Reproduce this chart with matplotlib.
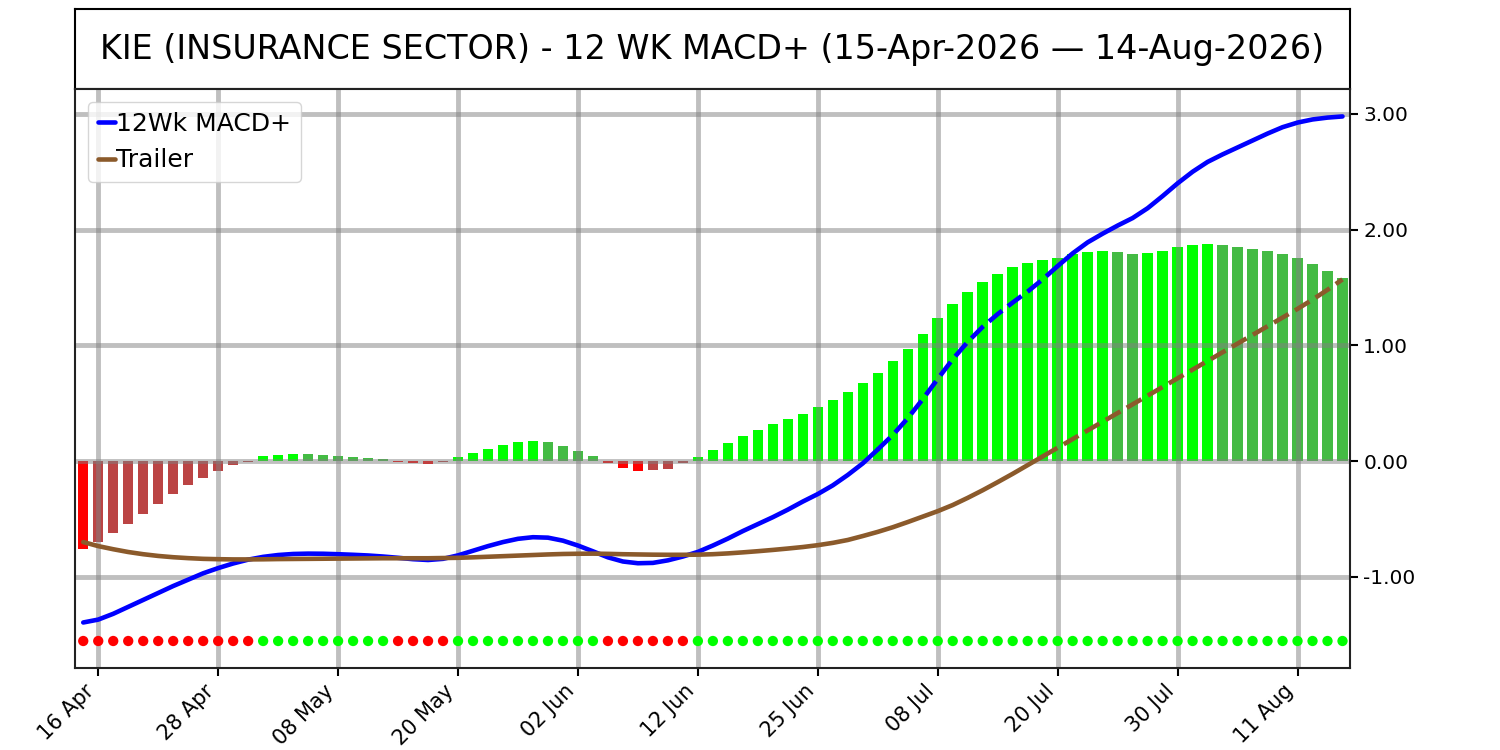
import numpy as np
import matplotlib
matplotlib.use("Agg")
import matplotlib.pyplot as plt
from matplotlib.ticker import FuncFormatter

title = "KIE (INSURANCE SECTOR) - 12 WK MACD+ (15-Apr-2026 \u2014 14-Aug-2026)"

# trading-day histogram (MACD+ minus trailer), one value per session
hist = [
    -0.763, -0.70, -0.625, -0.54, -0.455, -0.37, -0.285, -0.21, -0.144, -0.089,
    -0.037, -0.005, 0.043, 0.052, 0.060, 0.058, 0.052, 0.043, 0.032, 0.023,
    0.014, -0.008, -0.018, -0.022, -0.010, 0.032, 0.069, 0.104, 0.138, 0.164,
    0.173, 0.164, 0.130, 0.086, 0.043, -0.020, -0.058, -0.084, -0.080, -0.066,
    -0.020, 0.032, 0.095, 0.155, 0.216, 0.268, 0.320, 0.363, 0.410, 0.467,
    0.525, 0.594, 0.672, 0.758, 0.862, 0.966, 1.096, 1.234, 1.355, 1.459,
    1.546, 1.618, 1.676, 1.710, 1.736, 1.754, 1.785, 1.805, 1.814, 1.803,
    1.788, 1.797, 1.814, 1.849, 1.870, 1.876, 1.866, 1.849, 1.831, 1.814,
    1.788, 1.754, 1.702, 1.641, 1.580,
]

macd = [
    -1.395, -1.37, -1.32, -1.26, -1.20, -1.14, -1.08, -1.025, -0.97, -0.925,
    -0.885, -0.852, -0.828, -0.812, -0.803, -0.80, -0.801, -0.805, -0.81, -0.816,
    -0.825, -0.836, -0.848, -0.855, -0.845, -0.815, -0.775, -0.735, -0.70, -0.672,
    -0.658, -0.662, -0.688, -0.73, -0.78, -0.832, -0.868, -0.883, -0.88, -0.858,
    -0.825, -0.785, -0.73, -0.67, -0.605, -0.545, -0.485, -0.42, -0.35, -0.285,
    -0.21, -0.12, -0.02, 0.10, 0.225, 0.37, 0.535, 0.71, 0.88, 1.03,
    1.16, 1.27, 1.37, 1.465, 1.57, 1.685, 1.795, 1.89, 1.965, 2.035,
    2.10, 2.185, 2.29, 2.40, 2.50, 2.585, 2.65, 2.71, 2.77, 2.83,
    2.885, 2.925, 2.952, 2.968, 2.978,
]

trailer = [
    -0.70, -0.735, -0.762, -0.786, -0.805, -0.82, -0.831, -0.839, -0.845, -0.848,
    -0.85, -0.85, -0.849, -0.847, -0.846, -0.845, -0.844, -0.843, -0.842, -0.841,
    -0.84, -0.84, -0.84, -0.84, -0.838, -0.836, -0.832, -0.827, -0.822, -0.817,
    -0.812, -0.807, -0.803, -0.801, -0.80, -0.802, -0.805, -0.807, -0.809, -0.81,
    -0.81, -0.809, -0.805, -0.798, -0.789, -0.779, -0.768, -0.756, -0.743, -0.727,
    -0.707, -0.682, -0.648, -0.612, -0.572, -0.527, -0.48, -0.433, -0.38, -0.318,
    -0.252, -0.182, -0.11, -0.035, 0.04, 0.115, 0.19, 0.265, 0.34, 0.415,
    0.49, 0.565, 0.64, 0.715, 0.79, 0.865, 0.94, 1.015, 1.09, 1.165,
    1.24, 1.315, 1.395, 1.48, 1.57,
]

tick_labels = ["16 Apr", "28 Apr", "08 May", "20 May", "02 Jun", "12 Jun",
               "25 Jun", "08 Jul", "20 Jul", "30 Jul", "11 Aug"]
y_ticks = [-1, 0, 1, 2, 3]

hist = np.array(hist)
macd = np.array(macd)
trailer = np.array(trailer)
x = np.arange(len(hist))

BRIGHT_GREEN = "#00ff00"
DULL_GREEN = "#44bb44"
BRIGHT_RED = "#ff0000"
DULL_RED = "#bb4444"

# bar colours: bright when moving away from zero, dull when coming back
prev = np.concatenate([[0.0], hist[:-1]])
bar_colors = []
for h, p in zip(hist, prev):
    if h >= 0:
        bar_colors.append(BRIGHT_GREEN if h >= p else DULL_GREEN)
    else:
        bar_colors.append(BRIGHT_RED if h <= p else DULL_RED)
dot_colors = [BRIGHT_RED if h < 0 else BRIGHT_GREEN for h in hist]


def plot_split(ax, y, color, label):
    # dashed where the line runs inside the histogram bars
    inside = (y * hist > 0) & (np.abs(y) <= np.abs(hist))
    seg_dash = inside[:-1] & inside[1:]
    start = 0
    first = True
    for i in range(1, len(seg_dash) + 1):
        if i == len(seg_dash) or seg_dash[i] != seg_dash[start]:
            ls = "--" if seg_dash[start] else "-"
            lab = label if (first and ls == "-") else None
            if lab:
                first = False
            ax.plot(x[start:i + 1], y[start:i + 1], color=color, lw=3.3,
                    ls=ls, label=lab, zorder=3, solid_capstyle="round")
            start = i


fig = plt.figure(figsize=(15, 7.5), dpi=100)

tax = fig.add_axes([0.05, 0.881, 0.85, 0.107])
tax.set_xticks([])
tax.set_yticks([])
for s in tax.spines.values():
    s.set_linewidth(1.5)
tax.text(0.5, 0.5, title, ha="center", va="center", fontsize=24,
         transform=tax.transAxes)

ax = fig.add_axes([0.05, 0.110, 0.85, 0.771])
ax.bar(x, hist, width=0.7, color=bar_colors, zorder=1)
plot_split(ax, macd, "#0000ff", "12Wk MACD+")
plot_split(ax, trailer, "#8b5a2b", "Trailer")
ax.scatter(x, np.full(len(x), -1.555), c=dot_colors, s=55, zorder=3,
           edgecolors="none")

ax.set_xlim(-0.55, 84.5)
ax.set_ylim(-1.784, 3.213)
ax.set_xticks(x[1::8])
ax.set_xticklabels(tick_labels, rotation=45, ha="right", fontsize=15)
ax.set_yticks(y_ticks)
ax.yaxis.tick_right()
ax.yaxis.set_major_formatter(FuncFormatter(lambda v, p: f"{v:.2f}"))
ax.tick_params(axis="y", labelsize=14.5, length=6, width=1.5)
ax.tick_params(axis="x", length=6, width=1.5)
ax.grid(True, color="gray", alpha=0.5, lw=3.5)
for s in ax.spines.values():
    s.set_linewidth(1.5)
    s.set_color("#222222")

ax.legend(loc="upper left", fontsize=18, handlelength=0.7,
          handletextpad=0.05, borderpad=0.4, borderaxespad=0.5)

fig.savefig("out.png", dpi=100)
